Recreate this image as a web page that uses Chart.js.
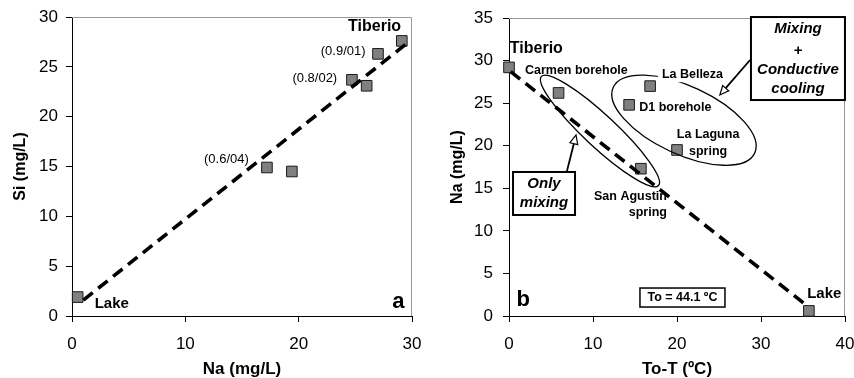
<!DOCTYPE html>
<html>
<head>
<meta charset="utf-8">
<script src="https://cdn.jsdelivr.net/npm/chart.js@4"></script>
<style>
  html, body { margin: 0; padding: 0; background: #fff; }
  #wrap { position: relative; width: 854px; height: 378px; }
  canvas { position: absolute; top: 0; }
  #chartA { left: 0; }
  #chartB { left: 430px; }
</style>
</head>
<body>
<div id="wrap">
  <canvas id="chartA" width="430" height="378"></canvas>
  <canvas id="chartB" width="424" height="378"></canvas>
</div>
<script>
/* ── Data ── */

// panel a : Si vs Na
const naA = [0.5, 17.2, 19.4, 24.7, 26.0, 27.0, 29.1];
const siA = [1.9, 14.9, 14.5, 23.7, 23.1, 26.3, 27.6];
const mixNaA = [1.0, 29.6];
const mixSiA = [1.6, 27.4];
const ticksAX = [0, 10, 20, 30];
const ticksAY = [0, 5, 10, 15, 20, 25, 30];

// panel b : Na vs To-T
const sitesB = ['Tiberio', 'Carmen borehole', 'D1 borehole', 'La Belleza', 'La Laguna spring', 'San Agustin spring', 'Lake'];
const dtB = [0, 5.9, 14.3, 16.8, 20.0, 15.7, 35.7];
const naB = [29.2, 26.2, 24.8, 27.0, 19.5, 17.3, 0.6];
const mixDtB = [0.2, 35.1];
const mixNaB = [28.7, 1.5];
const ticksBX = [0, 10, 20, 30, 40];
const ticksBY = [0, 5, 10, 15, 20, 25, 30, 35];

const FONT = "'Liberation Sans', Arial, sans-serif";

// annotations: anchors in data units, sizes in px
const notesA = [
  { kind: 'text', text: 'Tiberio', x: 26.7, y: 29.0, align: 'center', font: 'bold 16px' },
  { kind: 'text', text: '(0.9/01)', x: 25.9, y: 26.5, align: 'right', font: '13px' },
  { kind: 'text', text: '(0.8/02)', x: 23.4, y: 23.8, align: 'right', font: '13px' },
  { kind: 'text', text: '(0.6/04)', x: 15.6, y: 15.75, align: 'right', font: '13px' },
  { kind: 'text', text: 'Lake', x: 2.0, y: 1.2, align: 'left', font: 'bold 15px' },
  { kind: 'text', text: 'a', x: 28.8, y: 1.4, align: 'center', font: 'bold 22px' }
];

const notesB = [
  { kind: 'ellipse', x: 10.83, y: 21.73, rx: 80, ry: 16, rot: 43 },
  { kind: 'ellipse', x: 20.83, y: 23.0, rx: 78, ry: 34, rot: 25 },
  { kind: 'arrow', x: 6.87, y: 16.9, x2: 7.98, y2: 21.26 },
  { kind: 'arrow', x: 28.7, y: 30.07, x2: 25.1, y2: 25.96 },
  { kind: 'text', text: 'Tiberio', x: 0.1, y: 31.4, align: 'left', font: 'bold 16px' },
  { kind: 'text', text: 'Carmen borehole', x: 1.9, y: 28.8, align: 'left', font: 'bold 12.5px' },
  { kind: 'text', text: 'La Belleza', x: 18.2, y: 28.4, align: 'left', font: 'bold 12.5px', bg: true },
  { kind: 'text', text: 'D1 borehole', x: 15.5, y: 24.5, align: 'left', font: 'bold 12.5px' },
  { kind: 'text', text: 'La Laguna', x: 23.7, y: 21.3, align: 'center', font: 'bold 12.5px' },
  { kind: 'text', text: 'spring', x: 23.7, y: 19.3, align: 'center', font: 'bold 12.5px' },
  { kind: 'text', text: 'San Agustin', x: 18.8, y: 14.0, align: 'right', font: 'bold 12.5px' },
  { kind: 'text', text: 'spring', x: 18.8, y: 12.1, align: 'right', font: 'bold 12.5px' },
  { kind: 'text', text: 'Lake', x: 35.5, y: 2.6, align: 'left', font: 'bold 15px' },
  { kind: 'text', text: 'b', x: 1.7, y: 1.9, align: 'center', font: 'bold 22px' },
  { kind: 'box', x: 20.65, y: 2.17, w: 85, h: 19, lw: 1.5, font: 'bold 12.5px', lines: [['To = 44.1 ºC', 0]] },
  { kind: 'box', x: 4.17, y: 14.39, w: 62, h: 43, lw: 2, font: 'italic bold 15px', lines: [['Only', -9.5], ['mixing', 9.5]] },
  { kind: 'box', x: 34.4, y: 30.24, w: 94, h: 83, lw: 2, font: 'italic bold 15px',
    lines: [['Mixing', -29.5], ['+', -7.5], ['Conductive', 11.5], ['cooling', 30.5]] }
];

function notesPlugin(notes) {
  return {
    id: 'notes',
    afterDatasetsDraw(chart) {
      const { ctx, chartArea: ca, scales: { x, y } } = chart;
      ctx.save();
      // light frame on top and right
      ctx.strokeStyle = '#9a9a9a';
      ctx.lineWidth = 1;
      ctx.beginPath();
      ctx.moveTo(ca.left, ca.top + 0.5);
      ctx.lineTo(ca.right - 0.5, ca.top + 0.5);
      ctx.lineTo(ca.right - 0.5, ca.bottom);
      ctx.stroke();

      ctx.strokeStyle = '#000';
      ctx.fillStyle = '#000';
      notes.forEach(n => {
        const px = x.getPixelForValue(n.x), py = y.getPixelForValue(n.y);
        if (n.kind === 'ellipse') {
          ctx.lineWidth = 1.3;
          ctx.beginPath();
          ctx.ellipse(px, py, n.rx, n.ry, n.rot * Math.PI / 180, 0, 2 * Math.PI);
          ctx.stroke();
        } else if (n.kind === 'arrow') {
          const ex = x.getPixelForValue(n.x2), ey = y.getPixelForValue(n.y2);
          const a = Math.atan2(ey - py, ex - px);
          const len = 9, hw = 4;
          const bx = ex - len * Math.cos(a), by = ey - len * Math.sin(a);
          ctx.lineWidth = 1.8;
          ctx.beginPath();
          ctx.moveTo(px, py);
          ctx.lineTo(bx, by);
          ctx.stroke();
          ctx.lineWidth = 1.2;
          ctx.beginPath();
          ctx.moveTo(ex, ey);
          ctx.lineTo(bx - hw * Math.sin(a), by + hw * Math.cos(a));
          ctx.lineTo(bx + hw * Math.sin(a), by - hw * Math.cos(a));
          ctx.closePath();
          ctx.fillStyle = '#fff';
          ctx.fill();
          ctx.stroke();
          ctx.fillStyle = '#000';
        } else if (n.kind === 'text') {
          ctx.font = `${n.font} ${FONT}`;
          ctx.textAlign = n.align;
          ctx.textBaseline = 'middle';
          if (n.bg) {
            const w = ctx.measureText(n.text).width;
            const lx = n.align === 'left' ? px : n.align === 'right' ? px - w : px - w / 2;
            ctx.fillStyle = '#fff';
            ctx.fillRect(lx - 4, py - 8, w + 8, 16);
            ctx.fillStyle = '#000';
          }
          ctx.fillText(n.text, px, py);
        } else if (n.kind === 'box') {
          ctx.fillStyle = '#fff';
          ctx.fillRect(px - n.w / 2, py - n.h / 2, n.w, n.h);
          ctx.lineWidth = n.lw;
          ctx.strokeRect(px - n.w / 2, py - n.h / 2, n.w, n.h);
          ctx.fillStyle = '#000';
          ctx.font = `${n.font} ${FONT}`;
          ctx.textAlign = 'center';
          ctx.textBaseline = 'middle';
          n.lines.forEach(([t, dy]) => ctx.fillText(t, px, py + dy));
        }
      });
      ctx.restore();
    }
  };
}

function scatterChart(canvasId, opts) {
  const tickFont = { family: FONT, size: 17 };
  new Chart(document.getElementById(canvasId), {
    type: 'scatter',
    data: {
      datasets: [
        {
          label: 'mixing',
          data: opts.lineX.map((v, i) => ({ x: v, y: opts.lineY[i] })),
          showLine: true, borderColor: '#000', borderWidth: 3.6, borderDash: [12, 7],
          pointRadius: 0, fill: false, clip: false
        },
        {
          label: 'samples',
          data: opts.ptX.map((v, i) => ({ x: v, y: opts.ptY[i] })),
          pointStyle: 'rect', pointRadius: 7.5, backgroundColor: '#808080',
          borderColor: '#1a1a1a', borderWidth: 1, clip: false
        }
      ]
    },
    options: {
      responsive: false,
      animation: false,
      layout: { padding: { top: opts.padTop, right: opts.padRight, bottom: 0, left: 0 } },
      plugins: { legend: { display: false }, tooltip: { enabled: false } },
      scales: {
        x: {
          type: 'linear', min: opts.xMin, max: opts.xMax,
          afterBuildTicks: s => { s.ticks = opts.xTicks.map(v => ({ value: v })); },
          afterFit: s => { s.height = 62; s.paddingLeft = 0; s.paddingRight = 0; },
          border: { color: '#000', width: 1 },
          grid: { drawOnChartArea: false, tickLength: 6, color: '#000' },
          ticks: { color: '#000', padding: 12, font: tickFont },
          title: { display: true, text: opts.xTitle, color: '#000', padding: 0,
                   font: { family: FONT, size: 17, weight: 'bold', lineHeight: 1 } }
        },
        y: {
          type: 'linear', min: opts.yMin, max: opts.yMax,
          afterBuildTicks: s => { s.ticks = opts.yTicks.map(v => ({ value: v })); },
          afterFit: s => { s.width = opts.yWidth; s.paddingTop = 0; s.paddingBottom = 0; },
          border: { color: '#000', width: 1 },
          grid: { drawOnChartArea: false, tickLength: 6, color: '#000' },
          ticks: { color: '#000', padding: opts.yPad, font: tickFont },
          title: { display: true, text: opts.yTitle, color: '#000', padding: { top: opts.yTitlePad, bottom: 0 },
                   font: { family: FONT, size: 16, weight: 'bold', lineHeight: 1 } }
        }
      }
    },
    plugins: [notesPlugin(opts.notes)]
  });
}

scatterChart('chartA', {
  ptX: naA, ptY: siA, lineX: mixNaA, lineY: mixSiA,
  xMin: 0, xMax: 30, yMin: 0, yMax: 30, xTicks: ticksAX, yTicks: ticksAY,
  xTitle: 'Na (mg/L)', yTitle: 'Si (mg/L)',
  padTop: 17, padRight: 18, yWidth: 72, yPad: 8, yTitlePad: 13, notes: notesA
});

scatterChart('chartB', {
  ptX: dtB, ptY: naB, lineX: mixDtB, lineY: mixNaB,
  xMin: 0, xMax: 40, yMin: 0, yMax: 35, xTicks: ticksBX, yTicks: ticksBY,
  xTitle: 'To-T (ºC)', yTitle: 'Na (mg/L)',
  padTop: 18, padRight: 9, yWidth: 79, yPad: 10, yTitlePad: 20, notes: notesB
});
</script>
</body>
</html>
